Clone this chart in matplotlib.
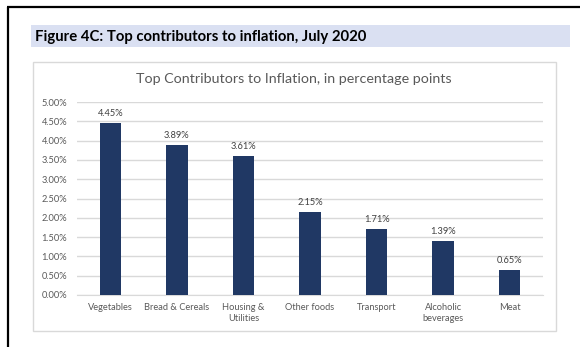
import matplotlib.pyplot as plt
from matplotlib.patches import Rectangle
from matplotlib.ticker import FuncFormatter, MultipleLocator

plt.rcParams["font.family"] = ["Lato", "DejaVu Sans"]

# Contributions to July 2020 inflation, percentage points
categories = ["Vegetables", "Bread & Cereals", "Housing &\nUtilities", "Other foods",
              "Transport", "Alcoholic\nbeverages", "Meat"]
contributions = [4.45, 3.89, 3.61, 2.15, 1.71, 1.39, 0.65]

figure_heading = "Figure 4C: Top contributors to inflation, July 2020"
chart_title = "Top Contributors to Inflation, in percentage points"

BAR_COLOR = "#203864"
GRID_COLOR = "#D9D9D9"
TEXT_GREY = "#595959"

W, H = 580, 347
fig = plt.figure(figsize=(W / 100, H / 100), dpi=100)

# Page decorations in pixel units
page = fig.add_axes([0, 0, 1, 1])
page.set_xlim(0, W)
page.set_ylim(H, 0)
page.axis("off")
page.plot([7, W], [7, 7], color="black", lw=1.6, solid_capstyle="butt")
page.plot([7.5, 7.5], [7, H], color="black", lw=1.6, solid_capstyle="butt")
page.add_patch(Rectangle((31, 25), 539, 22, facecolor="#DAE0F2", edgecolor="none"))
page.text(35, 36.5, figure_heading, fontsize=10.7, fontweight="bold",
          va="center", ha="left", color="black")
page.add_patch(Rectangle((33, 62), 523, 269, facecolor="white",
                         edgecolor=GRID_COLOR, lw=1))
page.text(294, 79, chart_title, fontsize=10.3, color=TEXT_GREY,
          va="center", ha="center")

# Bar chart
ax = fig.add_axes([77 / W, 1 - 295 / H, 466 / W, 193 / H])
x = range(len(categories))
bars = ax.bar(x, [v / 100 for v in contributions], width=0.32, color=BAR_COLOR, zorder=3)
for rect, v in zip(bars, contributions):
    ax.annotate(f"{v:.2f}%", (rect.get_x() + rect.get_width() / 2, rect.get_height()),
                xytext=(0, 3.5), textcoords="offset points", ha="center", va="bottom",
                fontsize=6.7, color="#404040")

ax.set_xlim(-0.5, len(categories) - 0.5)
ax.set_ylim(0, 0.05)
ax.yaxis.set_major_locator(MultipleLocator(0.005))
ax.yaxis.set_major_formatter(FuncFormatter(lambda v, _: f"{v * 100:.2f}%"))
ax.grid(axis="y", color=GRID_COLOR, lw=1, zorder=0)
ax.set_xticks(list(x))
ax.set_xticklabels(categories, linespacing=1.3)
ax.tick_params(axis="both", length=0, labelsize=6.7, labelcolor=TEXT_GREY)
ax.tick_params(axis="y", pad=7)
ax.tick_params(axis="x", pad=6)
for side in ("top", "right", "left"):
    ax.spines[side].set_visible(False)
ax.spines["bottom"].set_color(GRID_COLOR)
ax.set_facecolor("none")

fig.savefig("out.png", dpi=100)
